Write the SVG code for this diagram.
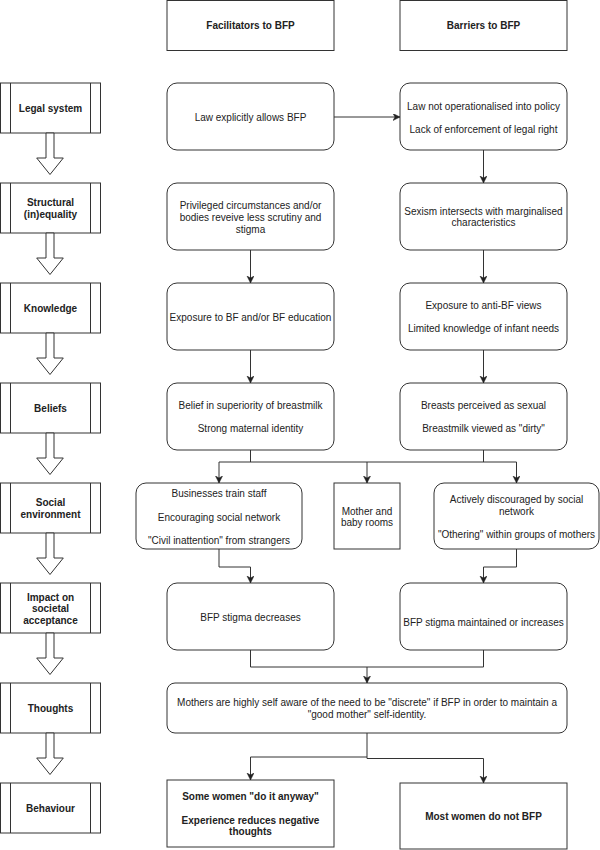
<svg xmlns="http://www.w3.org/2000/svg" width="600" height="850" viewBox="0 0 600 850">
<style>
.box{fill:#fff;stroke:#333;stroke-width:1}
.t{font-family:"Liberation Sans",Arial,sans-serif;font-size:10px;fill:#222;text-anchor:middle}
.b{font-weight:bold}
.c{fill:none;stroke:#333;stroke-width:1}
.ha{fill:#fff;stroke:#333;stroke-width:1}
</style>
<defs>
<marker id="ah" markerUnits="userSpaceOnUse" markerWidth="8" markerHeight="8" refX="7" refY="3.5" orient="auto">
<path d="M0,0 L7,3.5 L0,7 L2,3.5 Z" fill="#222" stroke="#222" stroke-width="0.5"/>
</marker>
</defs>
<rect width="600" height="850" fill="#fff"/>

<g id="header-facilitators"><rect class="box" x="167" y="0.5" width="167" height="50"/><text class="t b" x="250.5" y="29">Facilitators to BFP</text></g>
<g id="header-barriers"><rect class="box" x="400" y="0.5" width="167" height="50"/><text class="t b" x="483.5" y="29">Barriers to BFP</text></g>

<g id="levels">
<g id="lvl-legal"><rect class="box" x="0.5" y="83" width="100" height="50"/><path class="c" d="M10.5,83V133M90.5,83V133"/><text class="t b" x="50.5" y="111.5">Legal system</text></g>
<g id="lvl-structural"><rect class="box" x="0.5" y="183" width="100" height="50"/><path class="c" d="M10.5,183V233M90.5,183V233"/><text class="t b" x="50.5" y="206">Structural</text><text class="t b" x="50.5" y="218">(in)equality</text></g>
<g id="lvl-knowledge"><rect class="box" x="0.5" y="283" width="100" height="50"/><path class="c" d="M10.5,283V333M90.5,283V333"/><text class="t b" x="50.5" y="312">Knowledge</text></g>
<g id="lvl-beliefs"><rect class="box" x="0.5" y="383" width="100" height="50"/><path class="c" d="M10.5,383V433M90.5,383V433"/><text class="t b" x="50.5" y="412">Beliefs</text></g>
<g id="lvl-social"><rect class="box" x="0.5" y="483" width="100" height="50"/><path class="c" d="M10.5,483V533M90.5,483V533"/><text class="t b" x="50.5" y="506">Social</text><text class="t b" x="50.5" y="518">environment</text></g>
<g id="lvl-impact"><rect class="box" x="0.5" y="583" width="100" height="50"/><path class="c" d="M10.5,583V633M90.5,583V633"/><text class="t b" x="50.5" y="600.5">Impact on</text><text class="t b" x="50.5" y="612">societal</text><text class="t b" x="50.5" y="624">acceptance</text></g>
<g id="lvl-thoughts"><rect class="box" x="0.5" y="683" width="100" height="50"/><path class="c" d="M10.5,683V733M90.5,683V733"/><text class="t b" x="50.5" y="712">Thoughts</text></g>
<g id="lvl-behaviour"><rect class="box" x="0.5" y="783" width="100" height="50"/><path class="c" d="M10.5,783V833M90.5,783V833"/><text class="t b" x="50.5" y="812">Behaviour</text></g>
</g>

<g id="level-arrows">
<path class="ha" d="M46,133H54V158H63.3L50,174.5L36.7,158H46Z"/>
<path class="ha" d="M46,233H54V258H63.3L50,274.5L36.7,258H46Z"/>
<path class="ha" d="M46,333H54V358H63.3L50,374.5L36.7,358H46Z"/>
<path class="ha" d="M46,433H54V458H63.3L50,474.5L36.7,458H46Z"/>
<path class="ha" d="M46,533H54V558H63.3L50,574.5L36.7,558H46Z"/>
<path class="ha" d="M46,633H54V658H63.3L50,674.5L36.7,658H46Z"/>
<path class="ha" d="M46,733H54V758H63.3L50,774.5L36.7,758H46Z"/>
</g>

<g id="n-law-allows"><rect class="box" x="167" y="83" width="167" height="67" rx="10"/><text class="t" x="250.5" y="121">Law explicitly allows BFP</text></g>
<g id="n-law-not"><rect class="box" x="400" y="83" width="167" height="67" rx="10"/><text class="t" x="483.5" y="109.5">Law not operationalised into policy</text><text class="t" x="483.5" y="132.5">Lack of enforcement of legal right</text></g>
<g id="n-privileged"><rect class="box" x="167" y="183" width="167" height="67" rx="10"/><text class="t" x="250.5" y="209">Privileged circumstances and/or</text><text class="t" x="250.5" y="221">bodies reveive less scrutiny and</text><text class="t" x="250.5" y="232.5">stigma</text></g>
<g id="n-sexism"><rect class="box" x="400" y="183" width="167" height="67" rx="10"/><text class="t" x="483.5" y="215">Sexism intersects with marginalised</text><text class="t" x="483.5" y="226">characteristics</text></g>
<g id="n-exposure-bf"><rect class="box" x="167" y="283" width="167" height="67" rx="10"/><text class="t" x="250.5" y="320.5">Exposure to BF and/or BF education</text></g>
<g id="n-exposure-anti"><rect class="box" x="400" y="283" width="167" height="67" rx="10"/><text class="t" x="483.5" y="309">Exposure to anti-BF views</text><text class="t" x="483.5" y="332">Limited knowledge of infant needs</text></g>
<g id="n-belief"><rect class="box" x="167" y="383" width="167" height="67" rx="10"/><text class="t" x="250.5" y="408.5">Belief in superiority of breastmilk</text><text class="t" x="250.5" y="432">Strong maternal identity</text></g>
<g id="n-breasts"><rect class="box" x="400" y="383" width="167" height="67" rx="10"/><text class="t" x="483.5" y="408.5">Breasts perceived as sexual</text><text class="t" x="483.5" y="432">Breastmilk viewed as "dirty"</text></g>
<g id="n-businesses"><rect class="box" x="136" y="483" width="166" height="66" rx="10"/><text class="t" x="219" y="497">Businesses train staff</text><text class="t" x="219" y="520.5">Encouraging social network</text><text class="t" x="219" y="543.5">"Civil inattention" from strangers</text></g>
<g id="n-mother-rooms"><rect class="box" x="334" y="483" width="66" height="66"/><text class="t" x="367" y="514.5">Mother and</text><text class="t" x="367" y="526">baby rooms</text></g>
<g id="n-discouraged"><rect class="box" x="434" y="483" width="165" height="66" rx="10"/><text class="t" x="516.5" y="503">Actively discouraged by social</text><text class="t" x="516.5" y="515">network</text><text class="t" x="516.5" y="538">"Othering" within groups of mothers</text></g>
<g id="n-stigma-dec"><rect class="box" x="167" y="583" width="167" height="67" rx="10"/><text class="t" x="250.5" y="620.5">BFP stigma decreases</text></g>
<g id="n-stigma-inc"><rect class="box" x="400" y="583" width="167" height="67" rx="10"/><text class="t" x="483.5" y="626">BFP stigma maintained or increases</text></g>
<g id="n-thoughts"><rect class="box" x="167" y="683" width="400" height="50" rx="8"/><text class="t" x="367" y="706">Mothers are highly self aware of the need to be "discrete" if BFP in order to maintain a</text><text class="t" x="367" y="718">"good mother" self-identity.</text></g>
<g id="n-some-women"><rect class="box" x="167" y="780" width="167" height="67"/><text class="t b" x="250.5" y="800">Some women "do it anyway"</text><text class="t b" x="250.5" y="823.5">Experience reduces negative</text><text class="t b" x="250.5" y="835">thoughts</text></g>
<g id="n-most-women"><rect class="box" x="400" y="783" width="167" height="66"/><text class="t b" x="483.5" y="820">Most women do not BFP</text></g>

<g id="connectors">
<path class="c" d="M334,117H400" marker-end="url(#ah)"/>
<path class="c" d="M483.5,150V183" marker-end="url(#ah)"/>
<path class="c" d="M250.5,250V283" marker-end="url(#ah)"/>
<path class="c" d="M483.5,250V283" marker-end="url(#ah)"/>
<path class="c" d="M250.5,350V383" marker-end="url(#ah)"/>
<path class="c" d="M483.5,350V383" marker-end="url(#ah)"/>
<path class="c" d="M250.5,450V462M483.5,450V462M219,462H516.5"/>
<path class="c" d="M219,462V483" marker-end="url(#ah)"/>
<path class="c" d="M367,462V483" marker-end="url(#ah)"/>
<path class="c" d="M516.5,462V483" marker-end="url(#ah)"/>
<path class="c" d="M219,549V567H250.5V583" marker-end="url(#ah)"/>
<path class="c" d="M516.5,549V567H483.5V583" marker-end="url(#ah)"/>
<path class="c" d="M250.5,650V667H483.5V650"/>
<path class="c" d="M367,667V683" marker-end="url(#ah)"/>
<path class="c" d="M367,733V757H250.5V780" marker-end="url(#ah)"/>
<path class="c" d="M367,757V758.5H483.5V783" marker-end="url(#ah)"/>
</g>
</svg>
